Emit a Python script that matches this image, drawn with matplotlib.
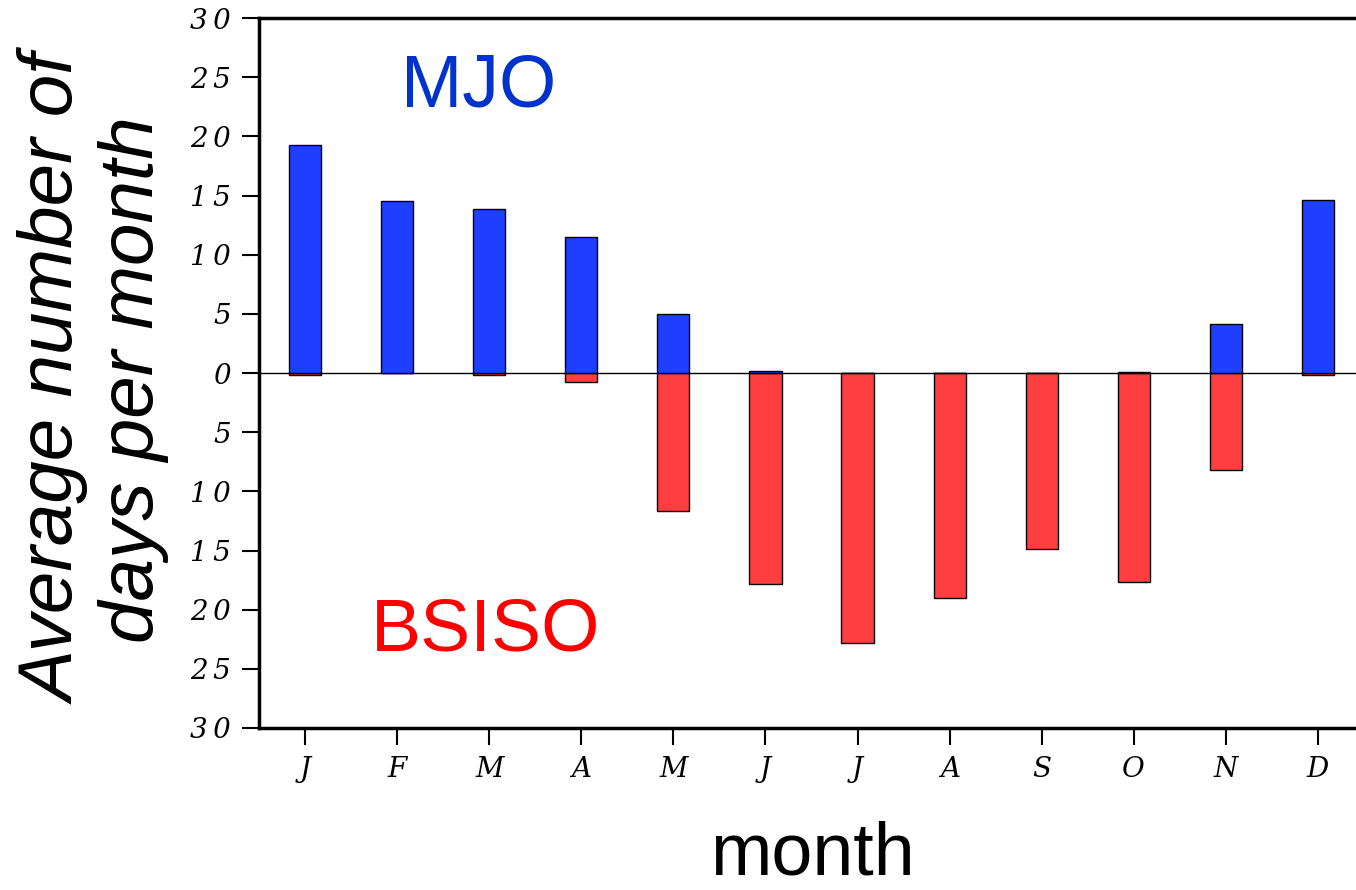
import matplotlib
matplotlib.use("Agg")
import matplotlib.pyplot as plt
import numpy as np

months = ["J", "F", "M", "A", "M", "J", "J", "A", "S", "O", "N", "D"]
mjo = [19.3, 14.5, 13.9, 11.5, 5.0, 0.2, 0.0, 0.0, 0.0, 0.1, 4.1, 14.6]
bsiso = [0.2, 0.0, 0.15, 0.8, 11.7, 17.8, 22.8, 19.0, 14.9, 17.7, 8.2, 0.2]
yticks = [-30, -25, -20, -15, -10, -5, 0, 5, 10, 15, 20, 25, 30]
ytick_labels = ["\u2009".join(str(abs(v))) for v in yticks]

W, H = 1356, 890
fig = plt.figure(figsize=(W / 100, H / 100), dpi=100)
ax = fig.add_axes([259 / W, 1 - 728 / H, (1364 - 259) / W, 710 / H])

x = np.arange(len(months))
ax.bar(x, [-v for v in bsiso], width=0.35, color="#ff3f3f", edgecolor="black", linewidth=1.0, zorder=3)
ax.bar(x, mjo, width=0.35, color="#1f3fff", edgecolor="black", linewidth=1.0, zorder=4)
ax.axhline(0, color="black", linewidth=1.0, zorder=2)

ax.set_xlim(-0.5, 11.5)
ax.set_ylim(-30, 30)
ax.set_yticks(yticks)
ax.set_yticklabels(ytick_labels, fontfamily="DejaVu Serif", fontstyle="italic", fontsize=20)
ax.set_xticks(x)
ax.set_xticklabels(months, fontfamily="DejaVu Serif", fontstyle="italic", fontsize=20)
ax.tick_params(axis="both", direction="out", length=12, width=1.5)
ax.tick_params(axis="y", pad=8)
ax.tick_params(axis="x", pad=8)
for s in ["left", "bottom", "top"]:
    ax.spines[s].set_linewidth(2.5)
ax.spines["right"].set_visible(False)

ax.text(1.89, 24.2, "MJO", color="#0033cc", fontsize=53, ha="center", va="center",
        fontfamily="Liberation Sans")
ax.text(1.96, -21.8, "BSISO", color="#ff0000", fontsize=54, ha="center", va="center",
        fontfamily="Liberation Sans")

fig.text(95 / W, 1 - 380 / H, "Average number of\ndays per month", rotation=90,
         ha="center", va="center", multialignment="center", fontsize=55,
         fontstyle="italic", fontfamily="Liberation Sans", linespacing=1.1)
fig.text(812 / W, 1 - 855 / H, "month", ha="center", va="center", fontsize=53,
         fontfamily="Liberation Sans")

fig.savefig("out.png", dpi=100)
